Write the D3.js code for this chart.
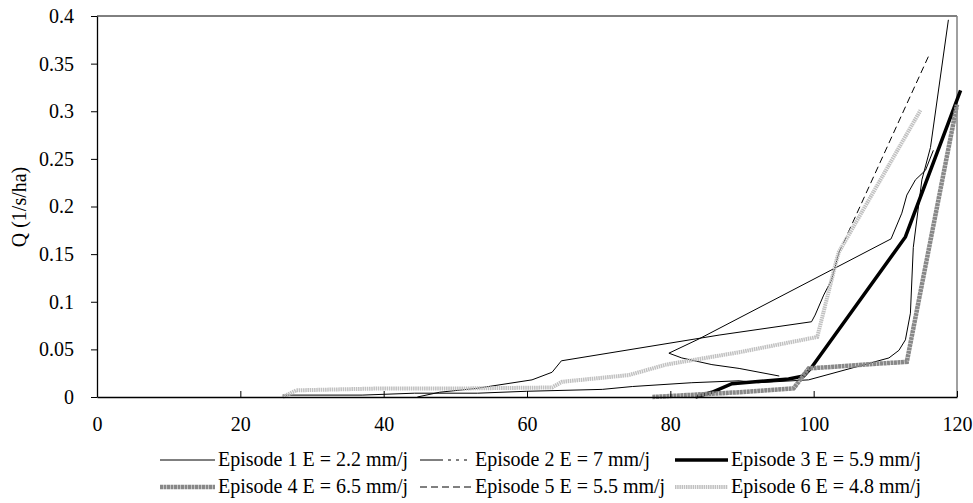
<!DOCTYPE html>
<html lang="fr">
<head>
<meta charset="utf-8">
<title>Q episodes</title>
<script src="https://cdn.jsdelivr.net/npm/d3@7"></script>
<style>
  body { margin: 0; background: #fff; }
</style>
</head>
<body>
<script>
var FONT = "'Liberation Serif', 'Times New Roman', Times, 'Nimbus Roman', 'Noto Serif', 'DejaVu Serif', serif";

// tick labels
var xTicks = [0, 20, 40, 60, 80, 100, 120];
var yTicks = [0, 0.05, 0.1, 0.15, 0.2, 0.25, 0.3, 0.35, 0.4];

// series as [x, Q]
var ep1 = [[25.9,0.002],[37.0,0.002],[44.3,0.004],[53.1,0.004],[59.9,0.006],[70.5,0.008],[74.7,0.011],
           [83.0,0.015],[89.6,0.017],[92.3,0.015],[99.3,0.018],[110.5,0.041],[111.9,0.049],[112.8,0.060],
           [113.5,0.088],[113.9,0.157],[115.1,0.228],[116.3,0.262],[118.8,0.396]];
var ep2 = [[116.7,0.259],[115.6,0.238],[114.2,0.228],[113.0,0.212],[112.3,0.193],[110.8,0.166],
           [84.0,0.061],[79.8,0.046],[81.6,0.041],[85.8,0.034],[89.6,0.030],[95.2,0.022]];
var ep3 = [[83.5,0],[85.8,0.005],[88.6,0.014],[96.5,0.019],[98.6,0.022],[99.7,0.031],[112.8,0.168],[120.5,0.322]];
var ep4 = [[77.5,0],[89.6,0.005],[97.2,0.009],[99.3,0.030],[113.0,0.037],[120.0,0.307]];
var ep5 = [[44.7,0],[47.8,0.005],[52.9,0.009],[60.7,0.018],[63.5,0.026],[64.8,0.038],[86.8,0.065],
           [99.7,0.079],[100.2,0.086],[101.4,0.107],[102.5,0.123],[103.5,0.151],[116.1,0.359]];
var ep6 = [[25.9,0],[27.8,0.007],[39.8,0.009],[51.5,0.009],[63.5,0.010],[64.9,0.016],[74.2,0.023],
           [79.4,0.034],[89.6,0.047],[100.5,0.063],[103.1,0.141],[103.5,0.152],[114.9,0.301]];

var names = ["Episode 1 E = 2.2 mm/j", "Episode 2 E = 7 mm/j", "Episode 3 E = 5.9 mm/j",
             "Episode 4 E = 6.5 mm/j", "Episode 5 E = 5.5 mm/j", "Episode 6 E = 4.8 mm/j"];
var series = [ep1, ep2, ep3, ep4, ep5, ep6];

// dashFrom: first segment where the dash pattern shows
// (the source data is dense before it, so the dashes restart at each point and look solid)
var styles = [
  {c: "#000", w: 1, d: null, dashFrom: 0},
  {c: "#000", w: 1, d: "23,5,3,5,3,5,3,5", dashFrom: 99},
  {c: "#000", w: 3.5, d: null, dashFrom: 0},
  {c: "#888", w: 4.5, d: "3,0.5", dashFrom: 0},
  {c: "#000", w: 1, d: "7,4", dashFrom: 11},
  {c: "#c0c0c0", w: 4, d: "1.5,0.7", dashFrom: 0}
];

var W = 973, H = 503;
var svg = d3.select("body").append("svg").attr("width", W).attr("height", H)
   .style("font-family", FONT);

var x = d3.scaleLinear().domain([0, 120]).range([97, 957]);
var y = d3.scaleLinear().domain([0, 0.4]).range([397, 16]);

// plot frame
svg.append("line").attr("x1", 97).attr("x2", 957).attr("y1", 16).attr("y2", 16)
   .attr("stroke", "#000").attr("stroke-width", 1);
svg.append("line").attr("x1", 957).attr("x2", 957).attr("y1", 16).attr("y2", 397)
   .attr("stroke", "#808080").attr("stroke-width", 1.5);

var line = d3.line().x(function(d){ return x(d[0]); }).y(function(d){ return y(d[1]); });

function drawPart(pts, st, dash) {
  svg.append("path").datum(pts).attr("d", line)
     .attr("fill", "none").attr("stroke", st.c).attr("stroke-width", st.w)
     .attr("stroke-dasharray", dash);
}

series.forEach(function(s, i) {
  var st = styles[i];
  var k = Math.min(st.dashFrom, s.length - 1);
  if (k === 0) {
    drawPart(s, st, st.d);
  } else {
    drawPart(s.slice(0, k + 1), st, null);
    if (k < s.length - 1) drawPart(s.slice(k), st, st.d);
  }
});

// axes
var xAxis = svg.append("g").attr("transform", "translate(0,397)")
   .call(d3.axisBottom(x).tickValues(xTicks).tickSizeInner(-6).tickSizeOuter(0).tickFormat(d3.format("d")));
xAxis.select(".domain").attr("stroke", "#000").attr("stroke-width", 1.3);
xAxis.selectAll(".tick line").attr("stroke", "#000");
xAxis.selectAll(".tick text").attr("y", 20).attr("fill", "#000")
   .style("font-family", FONT).style("font-size", "20px");

var yAxis = svg.append("g").attr("transform", "translate(97,0)")
   .call(d3.axisLeft(y).tickValues(yTicks).tickSize(6).tickSizeOuter(0).tickFormat(function(d){ return String(+d.toFixed(2)); }));
yAxis.select(".domain").attr("stroke", "#000").attr("stroke-width", 1.3);
yAxis.selectAll(".tick line").attr("stroke", "#000");
yAxis.selectAll(".tick text").attr("x", -23).attr("fill", "#000")
   .style("font-family", FONT).style("font-size", "20px");

svg.append("text")
   .attr("transform", "translate(26,207) rotate(-90)")
   .attr("text-anchor", "middle")
   .style("font-family", FONT).style("font-size", "20px")
   .text("Q (1/s/ha)");

// legend
var legX = [[160, 215], [420, 472], [675, 728]];
var legY = [460, 487];
names.forEach(function(n, i) {
  var col = i % 3, row = Math.floor(i / 3);
  var g = svg.append("g");
  g.append("line")
   .attr("x1", legX[col][0]).attr("x2", legX[col][1])
   .attr("y1", legY[row]).attr("y2", legY[row])
   .attr("stroke", styles[i].c)
   .attr("stroke-width", styles[i].w)
   .attr("stroke-dasharray", styles[i].d);
  g.append("text")
   .attr("x", legX[col][1] + 3)
   .attr("y", legY[row] + 6)
   .style("font-family", FONT).style("font-size", "20px")
   .text(n);
});
</script>
</body>
</html>
